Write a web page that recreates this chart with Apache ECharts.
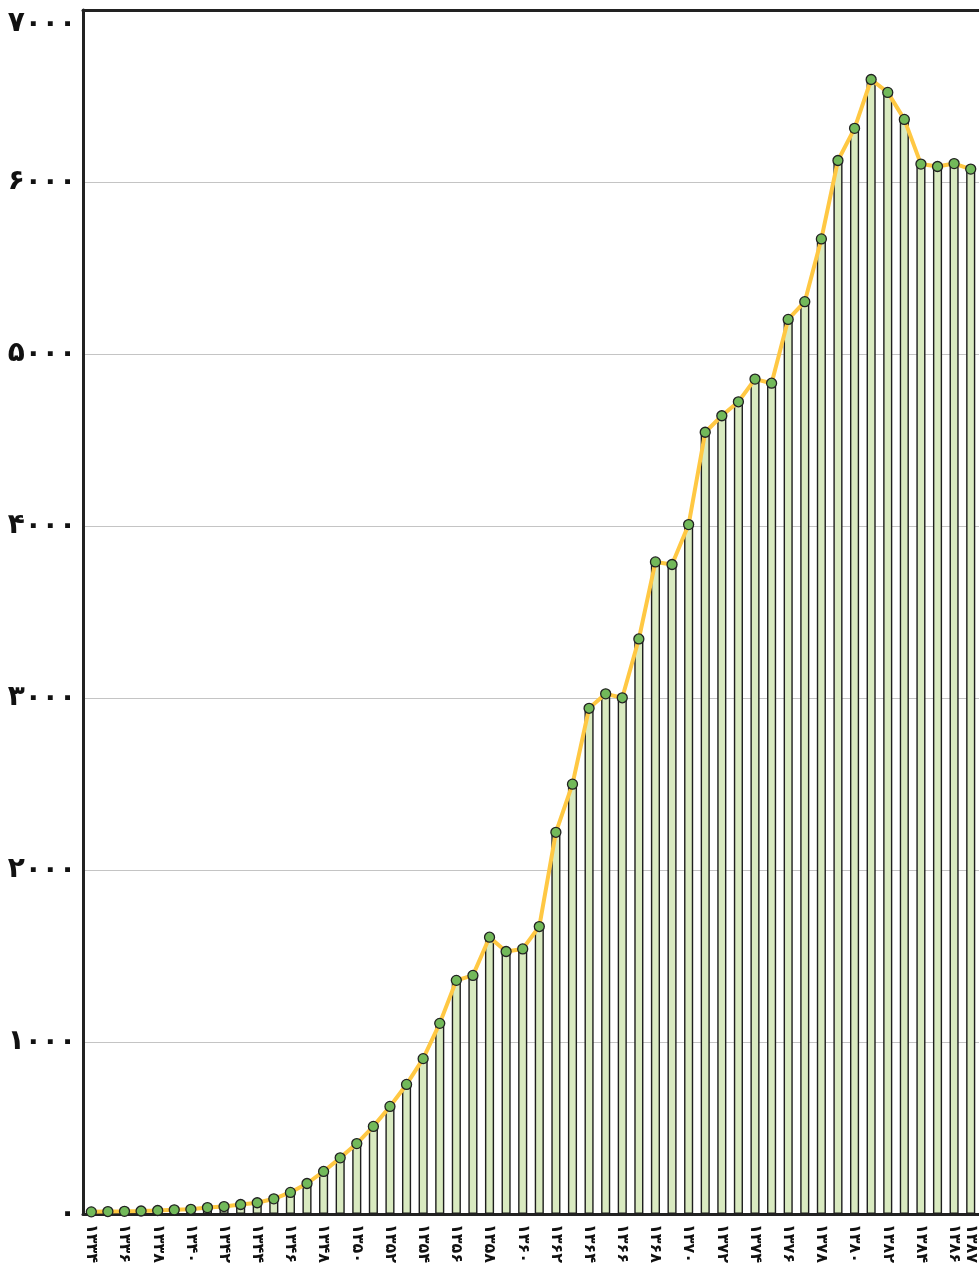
<!DOCTYPE html>
<html>
<head>
<meta charset="utf-8">
<script src="https://cdn.jsdelivr.net/npm/echarts@6/dist/echarts.min.js"></script>
<style>
  html, body { margin: 0; padding: 0; background: #fff; }
  #chart { width: 979px; height: 1266px; }
</style>
</head>
<body>
<div id="chart"></div>
<script>
// سال‌ها (هجری شمسی)
var years = ['۱۳۳۴','۱۳۳۵','۱۳۳۶','۱۳۳۷','۱۳۳۸','۱۳۳۹','۱۳۴۰','۱۳۴۱','۱۳۴۲','۱۳۴۳',
  '۱۳۴۴','۱۳۴۵','۱۳۴۶','۱۳۴۷','۱۳۴۸','۱۳۴۹','۱۳۵۰','۱۳۵۱','۱۳۵۲','۱۳۵۳',
  '۱۳۵۴','۱۳۵۵','۱۳۵۶','۱۳۵۷','۱۳۵۸','۱۳۵۹','۱۳۶۰','۱۳۶۱','۱۳۶۲','۱۳۶۳',
  '۱۳۶۴','۱۳۶۵','۱۳۶۶','۱۳۶۷','۱۳۶۸','۱۳۶۹','۱۳۷۰','۱۳۷۱','۱۳۷۲','۱۳۷۳',
  '۱۳۷۴','۱۳۷۵','۱۳۷۶','۱۳۷۷','۱۳۷۸','۱۳۷۹','۱۳۸۰','۱۳۸۱','۱۳۸۲','۱۳۸۳',
  '۱۳۸۴','۱۳۸۵','۱۳۸۶','۱۳۸۷'];

// مقادیر
var values = [12, 14, 15, 17, 20, 24, 27, 37, 43, 55,
  65, 88, 125, 177, 247, 326, 409, 509, 625, 753,
  903, 1108, 1358, 1387, 1609, 1526, 1541, 1671, 2219, 2499,
  2940, 3024, 3001, 3343, 3791, 3776, 4008, 4545, 4641, 4722,
  4854, 4830, 5201, 5304, 5669, 6125, 6312, 6596, 6521, 6364,
  6104, 6090, 6107, 6075];

// برچسب‌های محور عمودی
var yTickLabels = ['۰','۱۰۰۰','۲۰۰۰','۳۰۰۰','۴۰۰۰','۵۰۰۰','۶۰۰۰','۷۰۰۰'];

(function(){
  var myChart = echarts.init(document.getElementById('chart'));
  var option = {
    animation: false,
    grid: {
      left: 83,
      right: -5,
      top: 10,
      bottom: 50
    },
    xAxis: [
      {
        type: 'category',
        data: years,
        boundaryGap: true,
        axisLine: { lineStyle: { color: '#222', width: 3 } },
        axisTick: { show: false },
        axisLabel: {
          rotate: -90,
          margin: 10,
          color: '#111',
          fontFamily: 'DejaVu Sans',
          fontWeight: 'bold',
          fontSize: 16,
          //هر دو سال یک برچسب + سال آخر
          interval: function(index){
            return index % 2 === 0 || index === years.length - 1;
          }
        }
      },
      {
        // خط بالای کادر
        type: 'category',
        position: 'top',
        data: years,
        axisLine: { lineStyle: { color: '#222', width: 3 } },
        axisTick: { show: false },
        axisLabel: { show: false }
      }
    ],
    yAxis: {
      type: 'value',
      min: 0,
      max: 7000,
      interval: 1000,
      axisLine: { show: true, lineStyle: { color: '#222', width: 3 } },
      axisTick: { show: false },
      splitLine: { lineStyle: { color: '#c4c4c4', width: 1 } },
      axisLabel: {
        margin: 7,
        color: '#111',
        fontFamily: 'DejaVu Sans',
        fontWeight: 'bold',
        fontSize: 28,
        verticalAlignMaxLabel: 'top',
        formatter: function(v){
          return yTickLabels[Math.round(v / 1000)];
        }
      }
    },
    series: [
      {
        name: 'ستون',
        type: 'bar',
        data: values,
        barWidth: '55%',
        itemStyle: {
          color: '#d9eac0',
          borderColor: '#1e1e1e',
          borderWidth: 1.4
        },
        z: 2
      },
      {
        name: 'خط',
        type: 'line',
        data: values,
        symbol: 'circle',
        symbolSize: 10,
        lineStyle: { color: '#ffc843', width: 4 },
        itemStyle: {
          color: '#72b95a',
          borderColor: '#222',
          borderWidth: 1.3
        },
        z: 3
      }
    ]
  };
  myChart.setOption(option);
  window.addEventListener('resize', function(){
    myChart.resize();
  });
})();
</script>
</body>
</html>
